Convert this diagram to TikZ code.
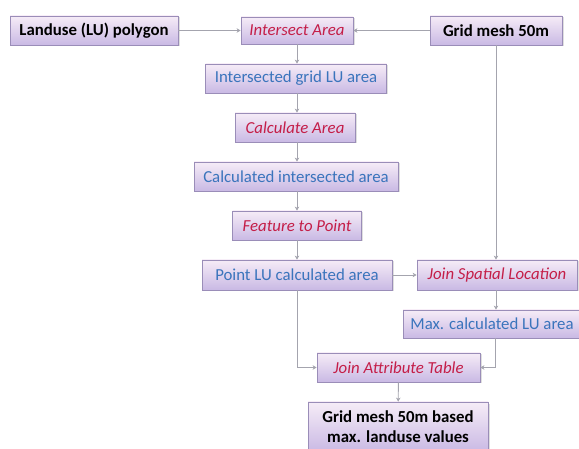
\documentclass[tikz,border=0pt]{standalone}
\usepackage{fontspec}
\setmainfont{Carlito}
\usetikzlibrary{arrows.meta,shadows}
\definecolor{boxTop}{HTML}{F6ECF7}
\definecolor{boxBot}{HTML}{C9B9E4}
\definecolor{boxLine}{HTML}{9A8DB8}
\definecolor{dataBlue}{HTML}{3A74BC}
\definecolor{procRed}{HTML}{C41E48}
\definecolor{flow}{HTML}{A4A4AE}
\tikzset{
  flowbox/.style={draw=boxLine,line width=0.8pt,top color=boxTop,bottom color=boxBot,
    inner sep=0pt,minimum height=29pt,
    drop shadow={opacity=0.25,shadow xshift=1.5pt,shadow yshift=-1.5pt}},
  iobox/.style={flowbox,font=\fontsize{16.8}{20}\selectfont\bfseries},
  databox/.style={flowbox,text=dataBlue},
  procbox/.style={flowbox,text=procRed,font=\fontsize{16.8}{20}\selectfont\itshape},
  link/.style={flow,line width=0.9pt,-{Stealth[length=4pt,width=4.5pt]}}
}
\begin{document}
\begin{tikzpicture}[x=1pt,y=-1pt,font=\fontsize{16.8}{20}\selectfont]
\useasboundingbox (0,0) rectangle (579,449);

% ---------- inputs ----------
\node[iobox,minimum width=168pt] (lu) at (94,30.5) {Landuse (LU) polygon};
\node[iobox,minimum width=132pt] (grid) at (496,30.5) {Grid mesh 50m};

% ---------- main column ----------
\node[procbox,minimum width=112pt,minimum height=27pt] (isect) at (297,30.5) {Intersect Area};
\node[databox,minimum width=181pt] (igla) at (296,78.5) {Intersected grid LU area};
\node[procbox,minimum width=120pt] (calc) at (295,127.5) {Calculate Area};
\node[databox,minimum width=204pt] (cia) at (296,176.5) {Calculated intersected area};
\node[procbox,minimum width=129pt] (feat) at (297,225.5) {Feature to Point};
\node[databox,minimum width=190pt,minimum height=30pt] (plu) at (297,275) {Point LU calculated area};

% ---------- right column ----------
\node[procbox,minimum width=160pt,minimum height=30pt] (jsl) at (497,275) {Join Spatial Location};
\node[databox,minimum width=178pt,minimum height=28pt] (maxa) at (492,324) {Max. calculated LU area};

% ---------- output ----------
\node[procbox,minimum width=163pt] (jat) at (398.5,367.5) {Join Attribute Table};
\node[iobox,minimum width=180pt,minimum height=50pt,align=center] (res) at (398,427)
  {Grid mesh 50m based\\max. landuse values};

% ---------- connectors ----------
\draw[link] (lu) -- (isect);
\draw[link] (grid) -- (isect);
\draw[link] (isect) -- (isect |- igla.north);
\draw[link] (isect |- igla.south) -- (isect |- calc.north);
\draw[link] (isect |- calc.south) -- (isect |- cia.north);
\draw[link] (isect |- cia.south) -- (feat);
\draw[link] (feat) -- (plu);
\draw[link] (grid.south -| 496,0) -- (jsl.north -| 496,0);
\draw[link] (plu) -- (jsl);
\draw[link] (jsl.south -| 496,0) -- (maxa.north -| 496,0);
\draw[link] (plu.south) |- (jat.west);
\draw[link] (maxa.south -| 495,0) |- (jat.east);
\draw[link] (jat) -- (res);
\end{tikzpicture}
\end{document}
